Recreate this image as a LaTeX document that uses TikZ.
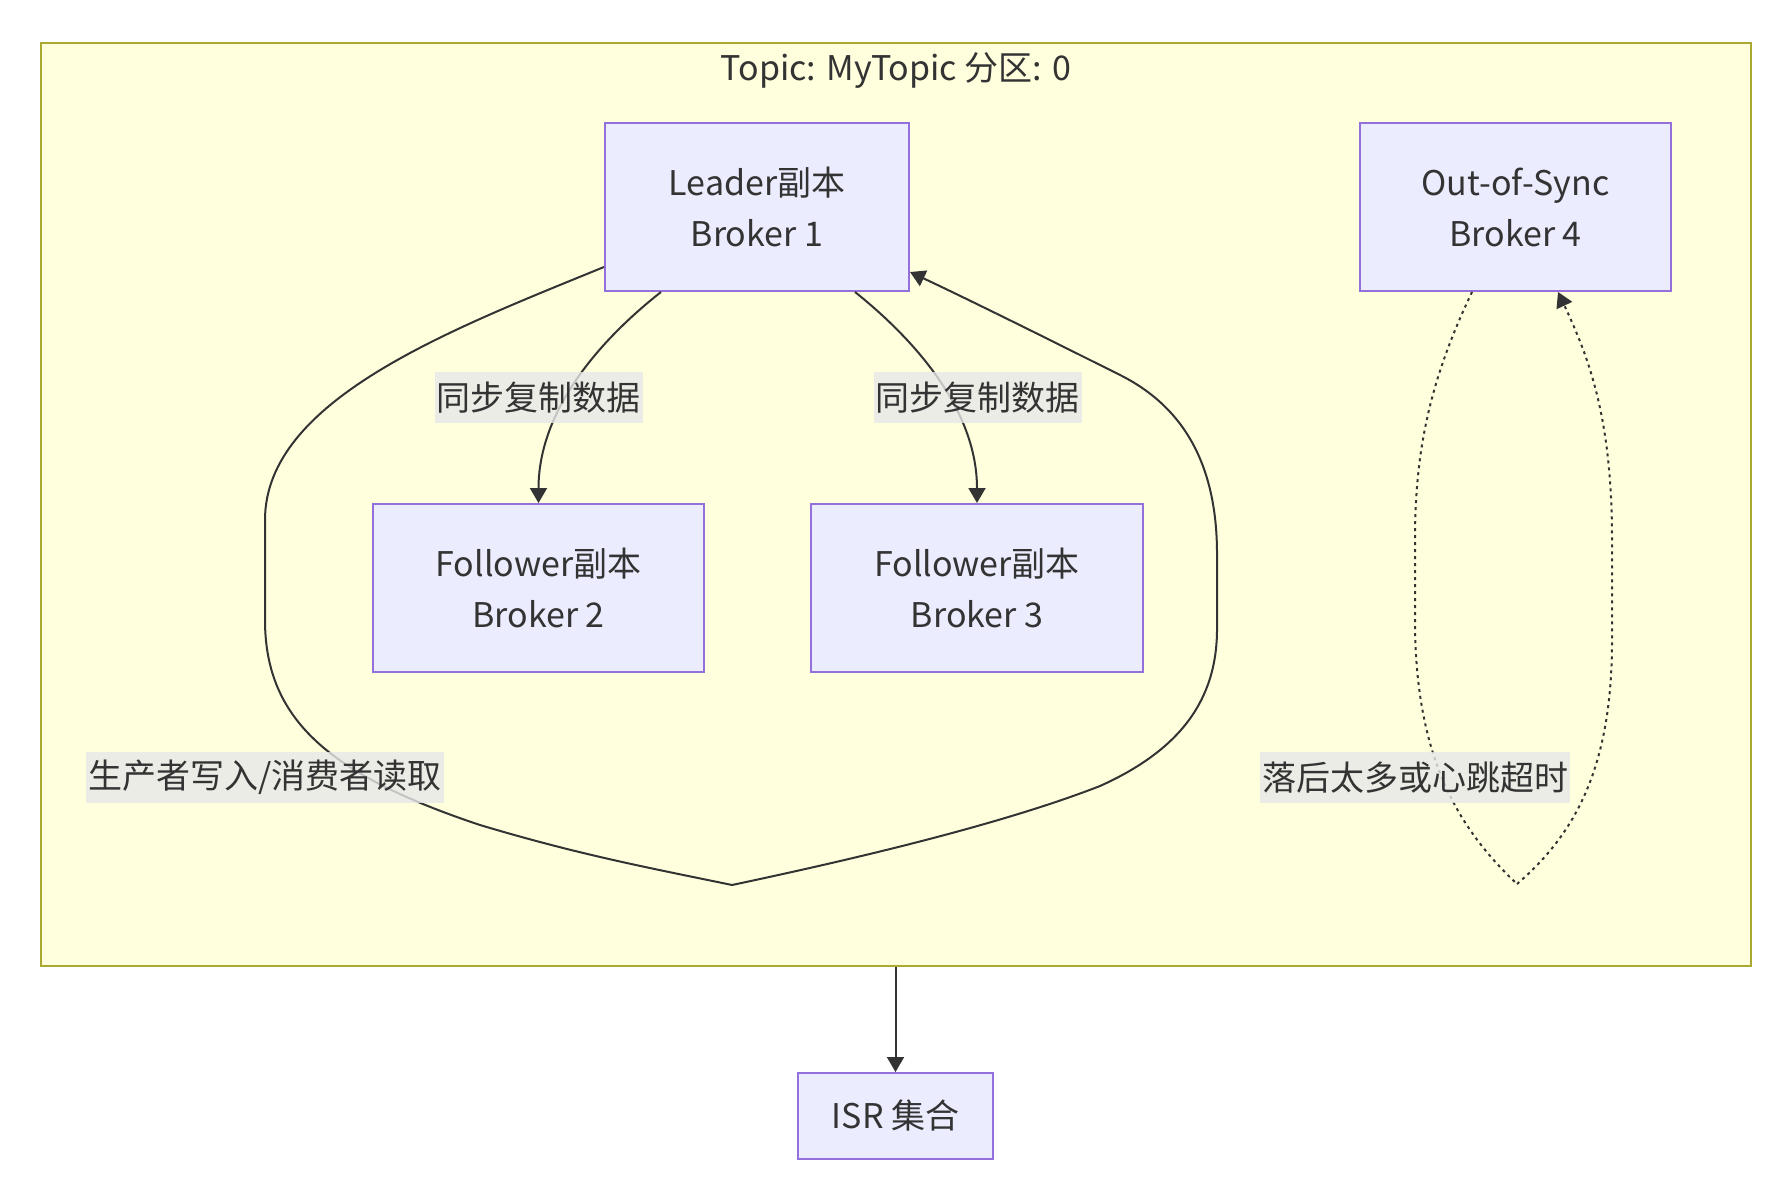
\documentclass[tikz,border=0pt]{standalone}
\usepackage{fontspec}
\setmainfont{Noto Sans CJK SC}
\usetikzlibrary{arrows.meta}
\definecolor{txt}{HTML}{333333}
\definecolor{nodefill}{HTML}{ECECFF}
\definecolor{nodeline}{HTML}{9370DB}
\definecolor{clfill}{HTML}{FFFFDE}
\definecolor{clline}{HTML}{AAAA33}
\definecolor{lblbg}{HTML}{E8E8E8}
\begin{document}
\begin{tikzpicture}[x=0.5pt,y=-0.5pt,
  every node/.style={text=txt, font=\fontsize{17pt}{25.5pt}\selectfont},
  box/.style={draw=nodeline, fill=nodefill, line width=1pt, align=center, inner sep=0pt},
  elabel/.style={fill=lblbg, fill opacity=0.8, text opacity=1, inner xsep=1pt, inner ysep=0pt, minimum height=25.5pt},
  conn/.style={draw=txt, line width=1pt},
  arr/.style={conn, -{Triangle[length=7.5pt,width=8.5pt]}},
  dotconn/.style={conn, dash pattern=on 1.5pt off 2pt},
  dotarr/.style={arr, dash pattern=on 1.5pt off 2pt},
]
\fill[white] (0,0) rectangle (1791,1197);
\useasboundingbox (0,0) rectangle (1791,1197);
\node[draw=clline, fill=clfill, line width=1pt, minimum width=855pt, minimum height=461.5pt, inner sep=0pt] (cl) at (896,504.5) {};
\node[anchor=base] (title) at (896,81) {Topic: MyTopic 分区: 0};
\node[box, minimum width=152pt, minimum height=84pt] (L) at (757,207) {Leader副本\\Broker 1};
\node[box, minimum width=155.5pt, minimum height=84pt] (O) at (1515.5,207) {Out-of-Sync\\Broker 4};
\node[box, minimum width=165.5pt, minimum height=84pt] (F2) at (538.5,588) {Follower副本\\Broker 2};
\node[box, minimum width=166pt, minimum height=84pt] (F3) at (977,588) {Follower副本\\Broker 3};
\node[box, minimum width=97.5pt, minimum height=43pt] (isr) at (895.5,1116) {ISR 集合};

\draw[arr] ([xshift=-48pt]L.south) .. controls (600,340) and (538.5,410) .. (F2.north);
\draw[arr] ([xshift=49pt]L.south) .. controls (915,340) and (977,410) .. (F3.north);

\coordinate (ls) at ([yshift=12.5pt]L.south west);
\coordinate (le) at ([yshift=10pt]L.south east);
\coordinate (lb) at (732,885);
\draw[conn] (ls) .. controls (450,330) and (265,400) .. (265,520) -- (265,620)
  .. controls (265,720) and (330,775) .. (480,825)
  .. controls (580,855) and (650,868) .. (lb);
\draw[arr] (lb) .. controls (850,860) and (1000,825) .. (1100,786)
  .. controls (1180,750) and (1217,700) .. (1217,629) -- (1217,554)
  .. controls (1217,460) and (1180,405) .. (1120,375)
  .. controls (1060,345) and (980,305) .. (le);

\coordinate (os) at ([xshift=-21.75pt]O.south);
\coordinate (oe) at ([xshift=21.25pt]O.south);
\coordinate (ob) at (1517,884);
\draw[dotconn] (os) .. controls (1430,380) and (1415,450) .. (1415,540) -- (1415,620)
  .. controls (1415,760) and (1460,830) .. (ob);
\draw[dotarr] (ob) .. controls (1580,830) and (1612,760) .. (1612,640) -- (1612,540)
  .. controls (1612,420) and (1590,360) .. (oe);

\draw[arr] (cl.south -| isr.north) -- (isr.north);

\node[elabel] (lb1) at (538.5,397.5) {同步复制数据};
\node[elabel] (lb2) at (977.5,397.5) {同步复制数据};
\node[elabel] (lb3) at (265,777.5) {生产者写入/消费者读取};
\node[elabel] (lb4) at (1415,777.5) {落后太多或心跳超时};
\end{tikzpicture}
\end{document}
